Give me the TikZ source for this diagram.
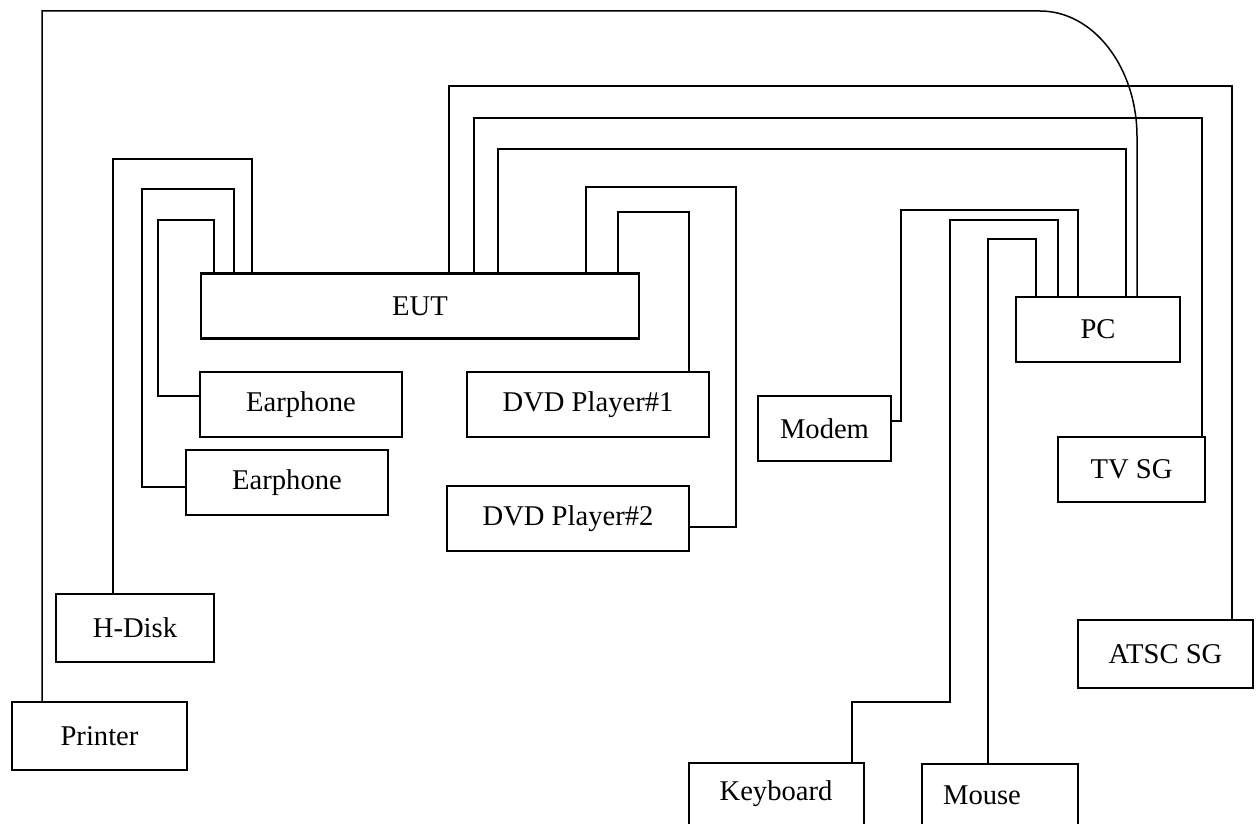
\documentclass[tikz,border=0pt]{standalone}
\usepackage{fontspec}
\setmainfont{Liberation Serif}
\begin{document}
\begin{tikzpicture}[x=1pt,y=-1pt,
  box/.style={draw, line width=2.2pt, inner sep=0pt, font=\fontsize{28.6}{34}\selectfont},
  lbl/.style={inner sep=0pt, font=\fontsize{28.6}{34}\selectfont},
  wire/.style={line width=1.9pt},
  thinwire/.style={line width=1.5pt}]
\useasboundingbox (0,0) rectangle (1258,824);
\clip (0,0) rectangle (1258,824);
% boxes
\node[box, minimum width=438pt, minimum height=65pt] (eut) at (420,306) {EUT};
\node[box, minimum width=202pt, minimum height=65pt] (ear1) at (301,404.5) {Earphone};
\node[box, minimum width=202pt, minimum height=65pt] (ear2) at (287,482.5) {Earphone};
\node[box, minimum width=242pt, minimum height=65pt] (dvd1) at (588,404.5) {DVD Player\#1};
\node[box, minimum width=242pt, minimum height=65pt] (dvd2) at (568,518.5) {DVD Player\#2};
\node[box, minimum width=133pt, minimum height=65pt] (modem) at (824.5,428.5) {Modem};
\node[box, minimum width=164pt, minimum height=65pt] (pc) at (1098,329.5) {PC};
\node[box, minimum width=147pt, minimum height=65pt] (tvsg) at (1131.5,469.5) {TV SG};
\node[box, minimum width=175pt, minimum height=68pt] (atsc) at (1165.5,654) {ATSC SG};
\node[box, minimum width=158pt, minimum height=68pt] (hdisk) at (135,628) {H-Disk};
\node[box, minimum width=175pt, minimum height=68pt] (printer) at (99.5,736) {Printer};
\node[box, minimum width=175pt, minimum height=80pt] (kbd) at (776.5,803) {};
\node[lbl] (kbdt) at (776,794) {Keyboard};
\node[box, minimum width=156pt, minimum height=80pt] (mouse) at (1000,804) {};
\node[lbl] (mouset) at (982,795) {Mouse};
% wires
\draw[thinwire] (printer.north -| 42,0) -- (42,11) -- (1040,11)
  .. controls (1093.6,11) and (1137,67.4) .. (1137,137) -- (pc.north -| 1137,0);
\draw[wire] (hdisk.north -| 113,0) -- (113,159) -- (252,159) -- (eut.north -| 252,0);
\draw[wire] (ear2.west |- 0,487) -- (142,487) -- (142,189) -- (234,189) -- (eut.north -| 234,0);
\draw[wire] (ear1.west |- 0,396) -- (158,396) -- (158,220) -- (214,220) -- (eut.north -| 214,0);
\draw[wire] (eut.north -| 449,0) -- (449,86) -- (1232,86) -- (atsc.north -| 1232,0);
\draw[wire] (eut.north -| 474,0) -- (474,118) -- (1202,118) -- (tvsg.north -| 1202,0);
\draw[wire] (eut.north -| 498,0) -- (498,149) -- (1126,149) -- (pc.north -| 1126,0);
\draw[wire] (eut.north -| 586,0) -- (586,187) -- (736,187) -- (736,527) -- (dvd2.east |- 0,527);
\draw[wire] (eut.north -| 618,0) -- (618,212) -- (689,212) -- (dvd1.north -| 689,0);
\draw[wire] (modem.east |- 0,421) -- (901,421) -- (901,210) -- (1078,210) -- (pc.north -| 1078,0);
\draw[wire] (kbd.north -| 852,0) -- (852,702) -- (950,702) -- (950,220) -- (1058,220) -- (pc.north -| 1058,0);
\draw[wire] (mouse.north -| 988,0) -- (988,239) -- (1036,239) -- (pc.north -| 1036,0);
\end{tikzpicture}
\end{document}
